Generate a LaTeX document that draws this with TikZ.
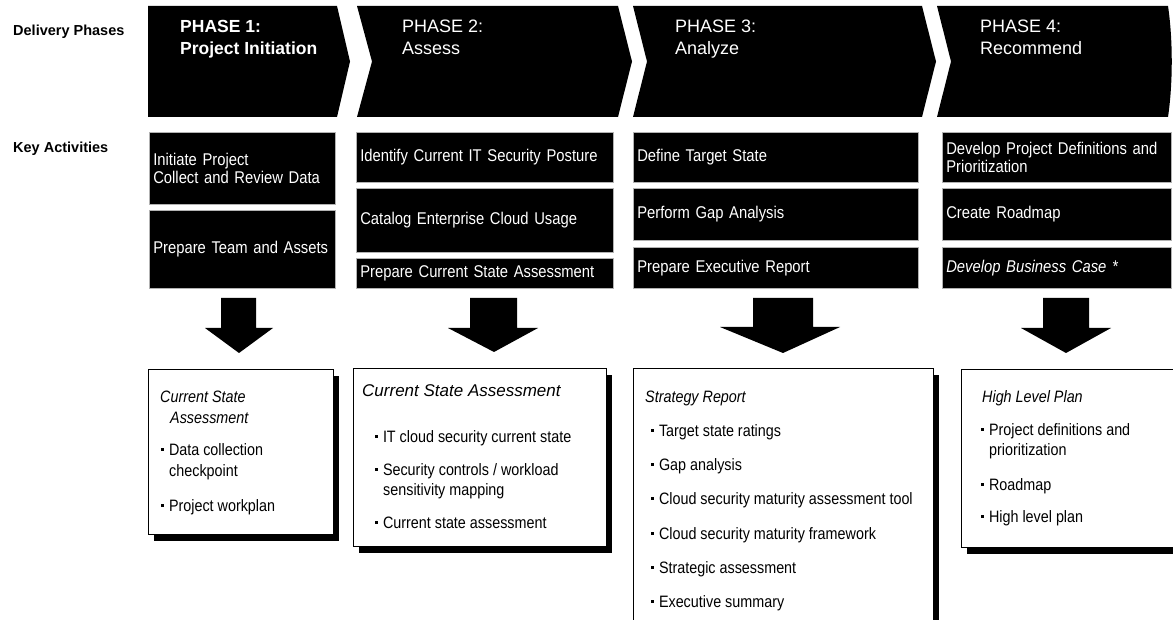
\documentclass[tikz,border=0pt]{standalone}
\usepackage{fontspec}
\setmainfont{Liberation Sans}
\newfontfamily\nar{Liberation Sans}[FakeStretch=0.87]
\usetikzlibrary{shadows}
\newcommand\sqbul{\rule[0.27em]{0.17em}{0.17em}\hspace{5pt}}
\begin{document}
\begin{tikzpicture}[x=1pt,y=-1pt,
  chev/.style={fill=black},
  hd/.style={anchor=base west, inner sep=0, text=white, font=\fontsize{18}{20}\selectfont},
  hdb/.style={hd, font=\fontsize{17.5}{20}\selectfont\bfseries},
  lbl/.style={anchor=base west, inner sep=0, font=\fontsize{14.5}{16}\selectfont\bfseries},
  abox/.style={fill=black, draw=gray!60, line width=0.6pt, anchor=north west, inner xsep=4pt, inner ysep=0pt, text=white, align=left, font=\nar\fontsize{17}{18}\selectfont},
  arr/.style={fill=black},
  dbox/.style={draw=black, line width=1pt, fill=white, anchor=north west, inner sep=0pt, drop shadow={fill=black, opacity=1, shadow xshift=5pt, shadow yshift=-6pt}},
  ttl/.style={anchor=base west, inner sep=0pt, font=\nar\itshape\fontsize{16.5}{19}\selectfont},
  ttlw/.style={anchor=base west, inner sep=0pt, font=\itshape\fontsize{17}{19}\selectfont},
  itm/.style={anchor=base west, inner sep=0pt, font=\nar\fontsize{16.5}{19}\selectfont},
]
\useasboundingbox (0,0) rectangle (1173,620);
\clip (0,0) rectangle (1173,620);
\fill[white] (0,0) rectangle (1173,620);

% row labels
\node[lbl] (ldp) at (13,35.5) {Delivery Phases};
\node[lbl] (lka) at (13,153) {Key Activities};

% phase chevrons
\fill[chev] (148,6) -- (337,6) -- (350,61.5) -- (337,117) -- (148,117) -- cycle;
\fill[chev] (357,6) -- (618,6) -- (632,61.5) -- (618,117) -- (357,117) -- (372,61.5) -- cycle;
\fill[chev] (633,6) -- (922,6) -- (936,61.5) -- (922,117) -- (633,117) -- (647,61.5) -- cycle;
\fill[chev] (937,6) -- (1168,6) .. controls (1173,40) and (1173,83) .. (1168,117) -- (937,117) -- (951,61.5) -- cycle;

\node[hdb] (p1a) at (180,33) {PHASE 1:};
\node[hdb] (p1b) at (180,55) {Project Initiation};
\node[hd] (p2a) at (402,33) {PHASE 2:};
\node[hd] (p2b) at (402,55) {Assess};
\node[hd] (p3a) at (675,33) {PHASE 3:};
\node[hd] (p3b) at (675,55) {Analyze};
\node[hd] (p4a) at (980,33) {PHASE 4:};
\node[hd] (p4b) at (980,55) {Recommend};

% key activities
\node[abox, text width=178pt, minimum height=72pt] (a11) at (149,132) {Initiate Project\\Collect and Review Data};
\node[abox, text width=178pt, minimum height=78pt] (a12) at (149,210) {Prepare Team and Assets};

\node[abox, text width=249pt, minimum height=50pt] (a21) at (356,132) {Identify Current IT Security Posture};
\node[abox, text width=249pt, minimum height=64pt] (a22) at (356,188) {Catalog Enterprise Cloud Usage};
\node[abox, text width=249pt, minimum height=30pt] (a23) at (356,258) {Prepare Current State Assessment};

\node[abox, text width=277pt, minimum height=50pt] (a31) at (633,132) {Define Target State};
\node[abox, text width=277pt, minimum height=52pt] (a32) at (633,188) {Perform Gap Analysis};
\node[abox, text width=277pt, minimum height=41pt] (a33) at (633,247) {Prepare Executive Report};

\node[abox, text width=221pt, minimum height=50pt] (a41) at (942,132) {Develop Project Definitions and\\Prioritization};
\node[abox, text width=221pt, minimum height=52pt] (a42) at (942,188) {Create Roadmap};
\node[abox, text width=221pt, minimum height=41pt] (a43) at (942,247) {\itshape Develop Business Case *};

% block arrows
\fill[arr] (221,298) -- (256,298) -- (256,328) -- (273,328) -- (239,353) -- (205,328) -- (221,328) -- cycle;
\fill[arr] (470,298) -- (517,298) -- (517,328) -- (538,328) -- (494,352) -- (448,328) -- (470,328) -- cycle;
\fill[arr] (753,298) -- (813,298) -- (813,327) -- (840,327) -- (783,353) -- (720,327) -- (753,327) -- cycle;
\fill[arr] (1043,298) -- (1089,298) -- (1089,328) -- (1111,328) -- (1066,353) -- (1021,328) -- (1043,328) -- cycle;

% deliverables
\node[dbox, minimum width=185pt, minimum height=165pt] (d1) at (148,369) {};
\node[dbox, minimum width=253pt, minimum height=178pt] (d2) at (353,368) {};
\node[dbox, minimum width=300pt, minimum height=280pt] (d3) at (633,368) {};
\node[dbox, minimum width=240pt, minimum height=178pt] (d4) at (961,369) {};

\node[ttl] (t1a) at (160,402) {Current State};
\node[ttl] (t1b) at (170,423) {Assessment};
\node[itm] (i11) at (161,455) {\sqbul Data collection};
\node[itm] (i11b) at (169,476) {checkpoint};
\node[itm] (i12) at (161,511) {\sqbul Project workplan};

\node[ttlw] (t2) at (362,396) {Current State Assessment};
\node[itm] (i21) at (375,442) {\sqbul IT cloud security current state};
\node[itm] (i22) at (375,475) {\sqbul Security controls / workload};
\node[itm] (i22b) at (383,495) {sensitivity mapping};
\node[itm] (i23) at (375,528) {\sqbul Current state assessment};

\node[ttl] (t3) at (645,402) {Strategy Report};
\node[itm] (i31) at (651,436) {\sqbul Target state ratings};
\node[itm] (i32) at (651,470) {\sqbul Gap analysis};
\node[itm] (i33) at (651,504) {\sqbul Cloud security maturity assessment tool};
\node[itm] (i34) at (651,539) {\sqbul Cloud security maturity framework};
\node[itm] (i35) at (651,573) {\sqbul Strategic assessment};
\node[itm] (i36) at (651,607) {\sqbul Executive summary};

\node[ttl] (t4) at (982,402) {High Level Plan};
\node[itm] (i41) at (981,435) {\sqbul Project definitions and};
\node[itm] (i41b) at (989,455) {prioritization};
\node[itm] (i42) at (981,490) {\sqbul Roadmap};
\node[itm] (i43) at (981,522) {\sqbul High level plan};
\end{tikzpicture}
\end{document}
